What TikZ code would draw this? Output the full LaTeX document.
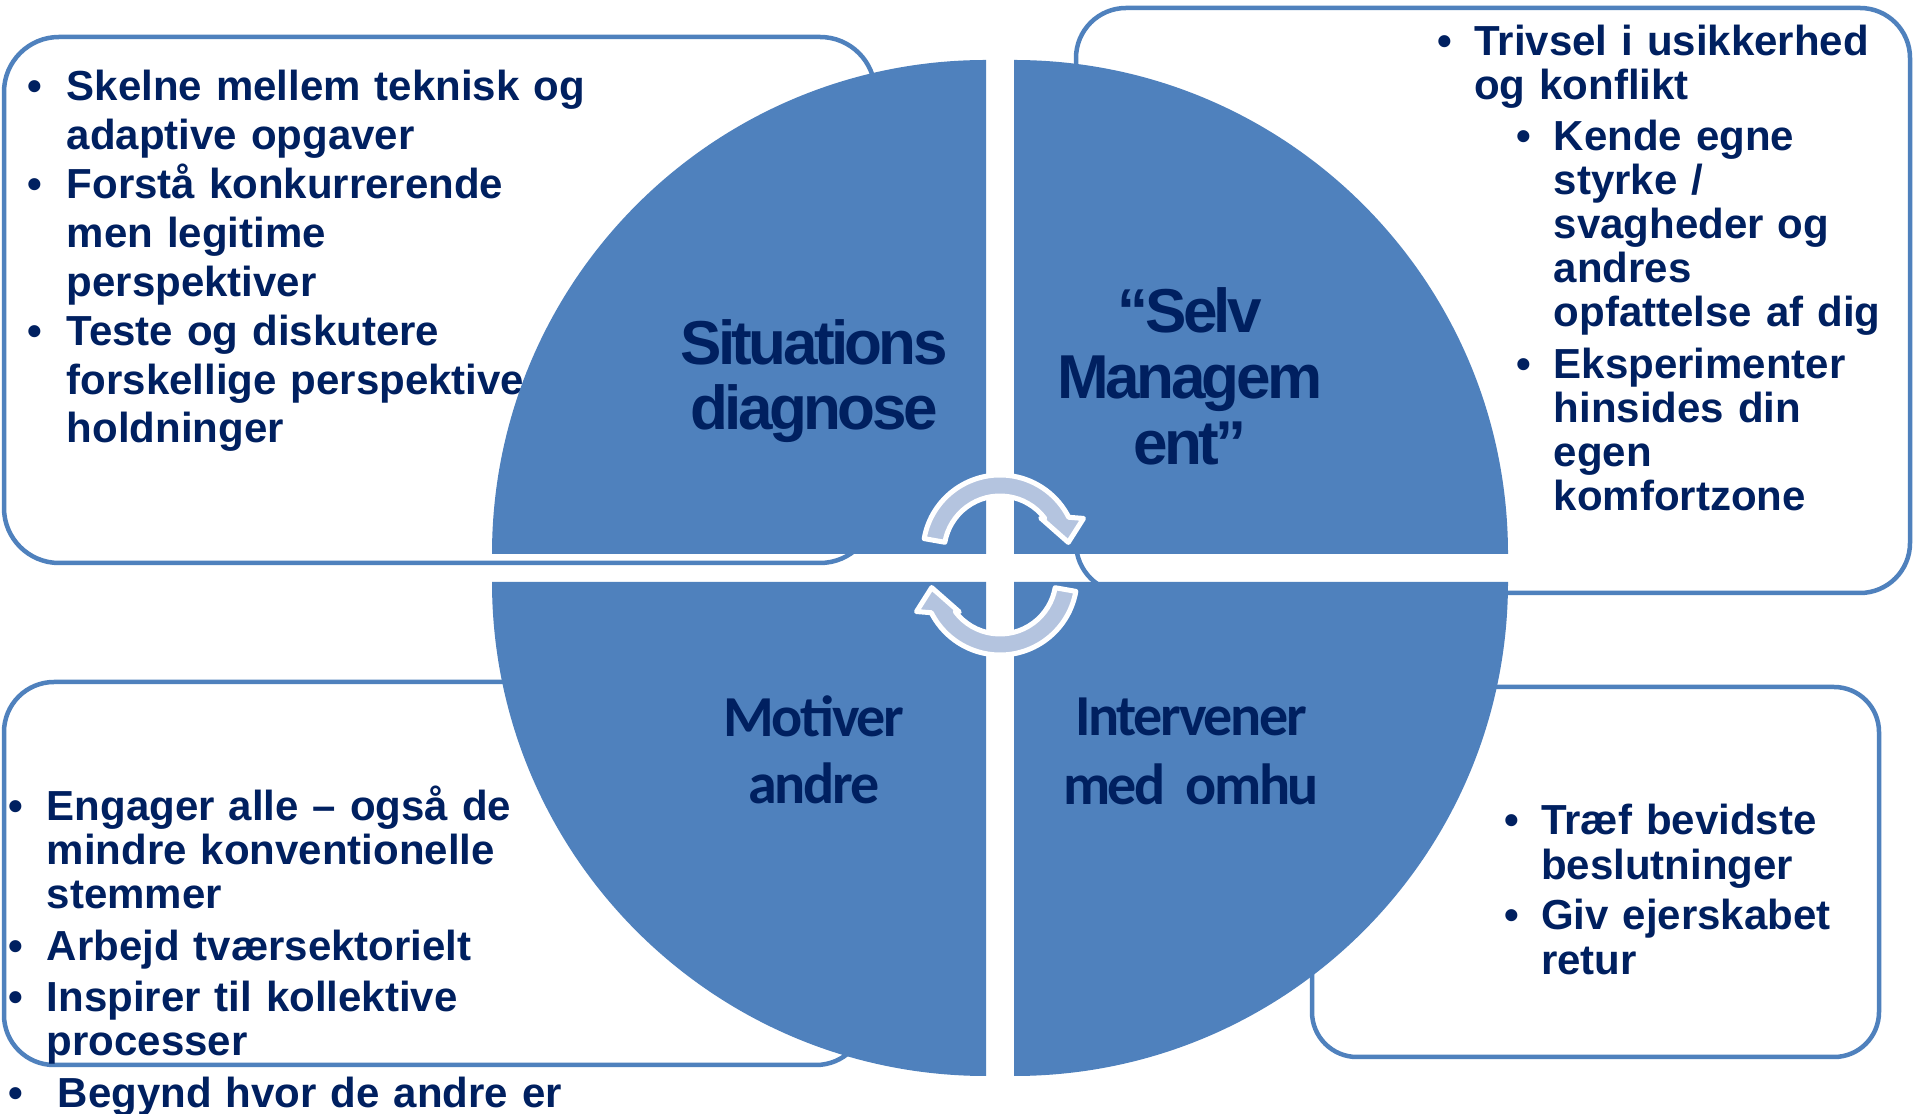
\documentclass[tikz,border=0pt]{standalone}
\usepackage{fontspec}
\setmainfont{Liberation Sans}
\newfontfamily\headfont{Liberation Sans}[LetterSpace=-5.8]
\newfontfamily\headfontb{Carlito}[LetterSpace=-4]
\usetikzlibrary{calc}

\definecolor{quadblue}{RGB}{79,129,189}
\definecolor{textnavy}{RGB}{0,32,96}
\definecolor{arrowblue}{RGB}{180,196,223}

% bullet line: bullet at #1, text (and its following lines) at #2
\newcommand\bul[2]{\hangindent=#2\hangafter=1\noindent\hspace*{#1}\makebox[\dimexpr#2-#1\relax][l]{\textbullet}}

\tikzset{
  quadrant/.style={fill=quadblue},
  infobox/.style={draw=quadblue, line width=4.5pt, fill=white},
  boxtext/.style={anchor=base west, inner sep=0pt, align=left, text=textnavy,
    font=\bfseries\fontsize{42}{44}\selectfont},
  headtext/.style={anchor=base, inner sep=0pt, align=center, text width=420pt, text=textnavy},
  cyclearrow/.style={fill=arrowblue, draw=white, line width=5pt, line join=round}
}

\begin{document}
\begin{tikzpicture}[x=1pt,y=1pt]
  %%%%% START %%%%%
  \def\rad{494}
  \def\cx{1000}
  \def\cy{546}
  \def\gap{14}

  \useasboundingbox (0,0) rectangle (1915,1114);
  \fill[white] (0,0) rectangle (1915,1114);

  % boxes behind the circle
  \draw[infobox, rounded corners=55] (4,551) rectangle (875,1077);
  \draw[infobox, rounded corners=50] (1076,521) rectangle (1910,1106);
  \draw[infobox, rounded corners=50] (4,49) rectangle (866,432);
  \draw[infobox, rounded corners=45] (1312,57) rectangle (1879,427);

  \node[boxtext, text width=850pt] (diagtext) at (27,1013) {\fontsize{42}{48.85}\selectfont%
    \bul{0pt}{39.5pt}Skelne mellem teknisk og\newline adaptive opgaver\par
    \bul{0pt}{39.5pt}Forstå konkurrerende\newline men legitime\newline perspektiver\par
    \bul{0pt}{39.5pt}Teste og diskutere\newline forskellige perspektiver\newline holdninger\par};

  \node[boxtext, text width=480pt] (selvtext) at (1437.6,1058.5) {\setlength\parskip{7.5pt}%
    \bul{0pt}{36.5pt}Trivsel i usikkerhed\newline og konflikt\par
    \bul{79pt}{116pt}Kende egne\newline styrke /\newline svagheder og\newline andres\newline opfattelse af dig\par
    \bul{79pt}{116pt}Eksperimenter\newline hinsides din\newline egen\newline komfortzone\par};

  \node[boxtext, text width=850pt] (motivtext) at (8.6,293) {\setlength\parskip{7.5pt}%
    \bul{0pt}{38pt}Engager alle – også de\newline mindre konventionelle\newline stemmer\par
    \bul{0pt}{38pt}Arbejd tværsektorielt\par
    \bul{0pt}{38pt}Inspirer til kollektive\newline processer\par
    \bul{0pt}{49pt}Begynd hvor de andre er\par};

  \node[boxtext, text width=400pt] (intervtext) at (1504,279) {\fontsize{42}{44.5}\selectfont\setlength\parskip{6pt}%
    \bul{0pt}{37pt}Træf bevidste\newline beslutninger\par
    \bul{0pt}{37pt}Giv ejerskabet\newline retur\par};

  % the four quarters
  \fill[quadrant] (\cx-\gap,\cy+\gap) -- ++(-\rad,0) arc[start angle=180, end angle=90, radius=\rad] -- cycle;
  \fill[quadrant] (\cx+\gap,\cy+\gap) -- ++(0,\rad) arc[start angle=90, end angle=0, radius=\rad] -- cycle;
  \fill[quadrant] (\cx-\gap,\cy-\gap) -- ++(0,-\rad) arc[start angle=270, end angle=180, radius=\rad] -- cycle;
  \fill[quadrant] (\cx+\gap,\cy-\gap) -- ++(\rad,0) arc[start angle=0, end angle=-90, radius=\rad] -- cycle;

  \node[headtext, font=\headfont\bfseries\fontsize{62}{65}\selectfont] (diagtitle) at (814,749) {Situations\\diagnose};
  \node[headtext, font=\headfont\bfseries\fontsize{62}{66}\selectfont] (selvtitle) at (1190,781) {“Selv\\Managem\\ent”};
  \node[headtext, font=\headfontb\bfseries\fontsize{58}{67}\selectfont] (motivtitle) at (814,377) {Motiver\\andre};
  \node[headtext, font=\headfontb\bfseries\fontsize{58}{69}\selectfont] (intervtitle) at (1191,378) {Intervener\\med omhu};

  % cycle arrows
  \begin{scope}[shift={(\cx,562)}]
    \filldraw[cyclearrow] (170:77) arc[start angle=170, end angle=26.8, radius=77] -- (21.9:90) -- (8:69)
      -- (39.8:53) -- (36.9:56) arc[start angle=36.9, end angle=170, radius=56] -- cycle;
  \end{scope}
  \begin{scope}[shift={(\cx,536)}, rotate=180]
    \filldraw[cyclearrow] (170:77) arc[start angle=170, end angle=26.8, radius=77] -- (21.9:90) -- (8:69)
      -- (39.8:53) -- (36.9:56) arc[start angle=36.9, end angle=170, radius=56] -- cycle;
  \end{scope}
  %%%%% END %%%%%
\end{tikzpicture}
\end{document}
